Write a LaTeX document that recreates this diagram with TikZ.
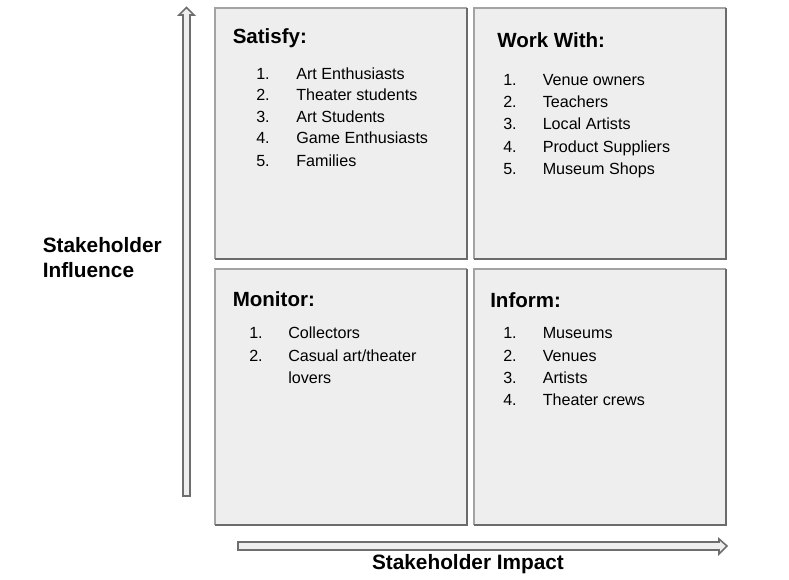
\documentclass[tikz,border=0pt]{standalone}
\usepackage{fontspec}
\setmainfont{Liberation Sans}
\begin{document}
\begin{tikzpicture}[x=0.75pt,y=-0.75pt,
  edgelight/.style={draw=edgelt,line width=1.6},
  edgedark/.style={draw=edgedk,line width=1.6},
  heading/.style={anchor=base west,inner sep=0pt,font=\fontsize{15.4}{18}\selectfont\bfseries},
  axislabel/.style={inner sep=0pt,font=\fontsize{15.6}{18}\selectfont\bfseries},
  itemnum/.style={anchor=base west,inner sep=0pt,font=\fontsize{12.1}{14}\selectfont},
  itemtext/.style={anchor=base west,inner sep=0pt,font=\fontsize{12.1}{14}\selectfont},
  axisarrow/.style={fill=boxfill,draw=arrowline,line width=1.2,line join=miter}]
\definecolor{boxfill}{HTML}{EEEEEE}
\definecolor{edgelt}{HTML}{A3A3A3}
\definecolor{edgedk}{HTML}{6B6B6B}
\definecolor{arrowline}{HTML}{6E6E6E}
\useasboundingbox[fill=white] (0,0) rectangle (789,580);

% the four quadrants: lighter top/left edges, darker bottom/right edges
\foreach \xa/\xb/\ya/\yb in {215/467/8/259, 474/726/8/259, 215/467/269/525, 474/726/269/525}{
  \fill[boxfill] (\xa,\ya) rectangle (\xb,\yb);
  \draw[edgelight] (\xa,\yb) -- (\xa,\ya) -- (\xb,\ya);
  \draw[edgedark] (\xb,\ya) -- (\xb,\yb) -- (\xa,\yb);
}

% influence axis (vertical hollow arrow)
\draw[axisarrow] (183,496) -- (183,15) -- (179,15) -- (186.5,7.5) -- (194,15) -- (190,15) -- (190,496) -- cycle;
% impact axis (horizontal hollow arrow)
\draw[axisarrow] (238,542) -- (719,542) -- (719,539) -- (727,546) -- (719,554) -- (719,550) -- (238,550) -- cycle;

% axis labels
\node[axislabel,anchor=base west] (inflA) at (42.5,253) {Stakeholder};
\node[axislabel,anchor=base west] (inflB) at (42.5,277.5) {Influence};
\node[axislabel,anchor=base] (impact) at (468,569.5) {Stakeholder Impact};

% Satisfy
\node[heading] (satT) at (232.5,43.5) {Satisfy:};
\foreach \n/\t/\y in {1/Art Enthusiasts/79.3, 2/Theater students/100.5, 3/Art Students/122.3, 4/Game Enthusiasts/144, 5/Families/167}{
  \node[itemnum] (sn\n) at (256,\y) {\n.};
  \node[itemtext] (st\n) at (296,\y) {\t};
}

% Work With
\node[heading] (wwT) at (497,47.3) {Work With:};
\foreach \n/\t/\y in {1/Venue owners/85.8, 2/Teachers/107.8, 3/Local Artists/129.8, 4/Product Suppliers/152.5, 5/Museum Shops/174.5}{
  \node[itemnum] (wn\n) at (503,\y) {\n.};
  \node[itemtext] (wt\n) at (542.5,\y) {\t};
}

% Monitor
\node[heading] (moT) at (232.5,307) {Monitor:};
\node[itemnum] (mn1) at (249,339) {1.};
\node[itemtext] (mt1) at (288,339) {Collectors};
\node[itemnum] (mn2) at (249,361.7) {2.};
\node[itemtext] (mt2) at (288,361.7) {Casual art/theater};
\node[itemtext] (mt2b) at (288,383.5) {lovers};

% Inform
\node[heading] (inT) at (490,307.7) {Inform:};
\foreach \n/\t/\y in {1/Museums/339, 2/Venues/361.7, 3/Artists/383.3, 4/Theater crews/405.3}{
  \node[itemnum] (in\n) at (503,\y) {\n.};
  \node[itemtext] (it\n) at (542.5,\y) {\t};
}
\end{tikzpicture}
\end{document}
